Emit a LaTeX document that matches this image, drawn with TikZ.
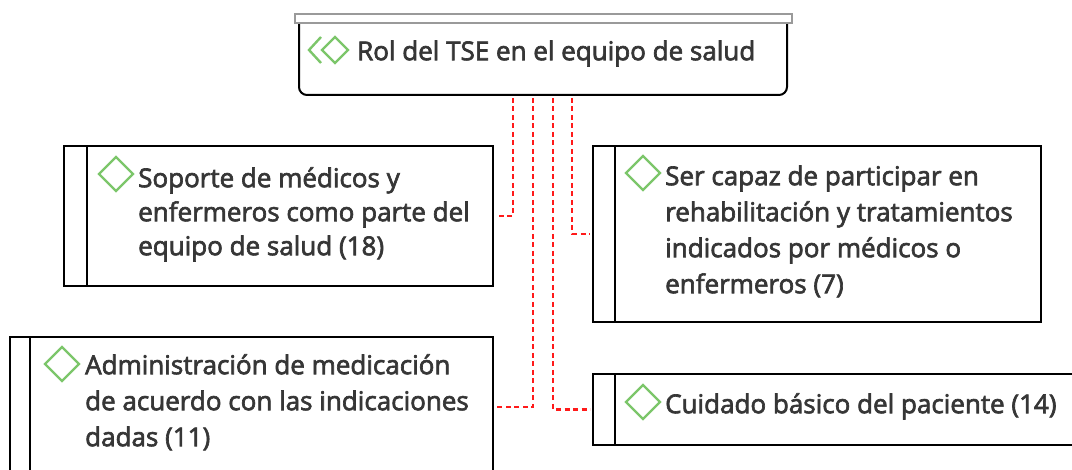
\documentclass[tikz,border=0pt]{standalone}
\usepackage{fontspec}
\setmainfont{Open Sans}
\newfontfamily\lblfont{Open Sans}[FakeBold=2.5]
\usetikzlibrary{calc}
\definecolor{txt}{HTML}{363636}
\definecolor{icon}{HTML}{7CC66A}
\definecolor{bar}{HTML}{9A9A9A}
\definecolor{conn}{HTML}{FF1A1A}
\newcommand{\topstrut}{\rule{0pt}{26pt}}
\begin{document}
\begin{tikzpicture}[x=1pt,y=-1pt,
  box/.style={draw=black, line width=2pt, fill=white, anchor=north west, inner sep=0pt, outer sep=0pt},
  label/.style={anchor=north west, inner sep=0pt, text=txt, align=left},
  dotconn/.style={draw=conn, line width=2.5pt, dash pattern=on 5pt off 3.5pt},
  dia/.style={draw=icon, line width=2.4pt, line join=miter}]
\useasboundingbox (0,0) rectangle (1072,470);
% top node
\draw[black, line width=2pt, fill=white, rounded corners=8pt] (299,20) -- (299,95) -- (787,95) -- (787,20);
\draw[bar, line width=1.5pt, fill=white] (295,14) rectangle (792,23);
\node[anchor=north west, inner sep=0pt, minimum width=488, minimum height=81] (top) at (299,14) {};
\draw[dia] (321,37) -- (309,50) -- (321,63);
\draw[dia] (335,37) -- (348,50) -- (335,63) -- (322,50) -- cycle;
\node[label, font=\lblfont\fontsize{26}{36}\selectfont] (ttitle) at (357,34) {\topstrut Rol del TSE en el equipo de salud};
% boxes
\node[box, minimum width=429, minimum height=140] (b1) at (64,146) {};
\node[box, minimum width=448, minimum height=176] (b3) at (593,146) {};
\node[box, minimum width=483, minimum height=140] (b2) at (10,337) {};
\node[box, minimum width=490, minimum height=71] (b4) at (593,374) {};
\draw[line width=2pt] ($(b1.north west)+(23,0)$) -- ($(b1.south west)+(23,0)$);
\draw[line width=2pt] ($(b3.north west)+(22,0)$) -- ($(b3.south west)+(22,0)$);
\draw[line width=2pt] ($(b2.north west)+(20,0)$) -- ($(b2.south west)+(20,0)$);
\draw[line width=2pt] ($(b4.north west)+(22,0)$) -- ($(b4.south west)+(22,0)$);
% icons
\draw[dia] (116,157) -- (133,174) -- (116,191) -- (99,174) -- cycle;
\draw[dia] (643,156) -- (660,173) -- (643,190) -- (626,173) -- cycle;
\draw[dia] (62,347) -- (79,364) -- (62,381) -- (45,364) -- cycle;
\draw[dia] (643,385) -- (660,402) -- (643,419) -- (626,402) -- cycle;
% texts
\node[label, font=\lblfont\fontsize{26}{34}\selectfont] (t1) at (138,161) {\topstrut Soporte de médicos y\\enfermeros como parte del\\equipo de salud (18)};
\node[label, font=\lblfont\fontsize{26}{36}\selectfont] (t3) at (665,159) {\topstrut Ser capaz de participar en\\rehabilitación y tratamientos\\indicados por médicos o\\enfermeros (7)};
\node[label, font=\lblfont\fontsize{26}{36}\selectfont] (t2) at (85,348) {\topstrut Administración de medicación\\de acuerdo con las indicaciones\\dadas (11)};
\node[label, font=\lblfont\fontsize{26}{36}\selectfont] (t4) at (665,387) {\topstrut Cuidado básico del paciente (14)};
% connectors
\coordinate (c1) at (513,98);
\coordinate (c2) at (533,98);
\coordinate (c3) at (553,98);
\coordinate (c4) at (572,98);
\draw[dotconn] (c1) |- ($(b1.east)+(4,0)$);
\draw[dotconn] (c4) |- ($(b3.west)+(-3,0)$);
\draw[dotconn] (c2) |- ($(b2.east)+(4,0)$);
\draw[dotconn] (c3) |- ($(b4.west)+(-3,0)$);
\end{tikzpicture}
\end{document}
